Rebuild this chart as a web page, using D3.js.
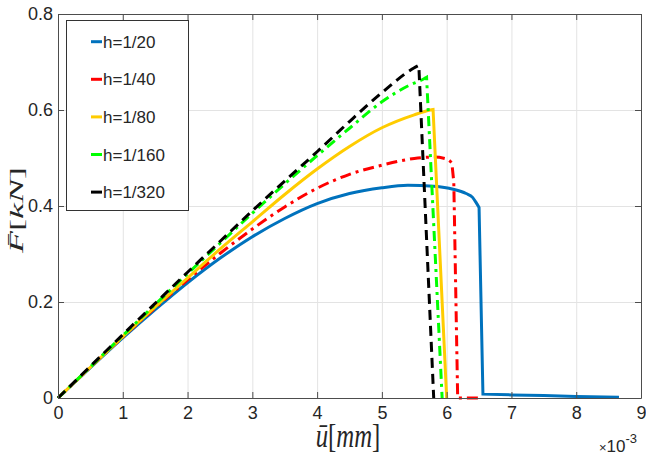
<!DOCTYPE html>
<html>
<head>
<meta charset="utf-8">
<script src="https://cdn.jsdelivr.net/npm/d3@7"></script>
<style>
body { margin: 0; background: #fff; }
text { font-family: "Liberation Sans", Arial, sans-serif; fill: #262626; }
</style>
</head>
<body>
<div id="chart"></div>
<script>
var w = 646; // Define width
var h = 461; // Define height
var plotLeft = 58, plotRight = 641, plotTop = 14, plotBottom = 398; // plot box

// Data (u in 1e-3 mm, F in kN)
var seriesNames = ["h=1/20", "h=1/40", "h=1/80", "h=1/160", "h=1/320"];

var uBlue = [0, 0.5, 1, 1.5, 2, 2.5, 3, 3.5, 4, 4.5, 5, 5.4, 5.8, 6.1, 6.3, 6.4, 6.46, 6.5, 6.56, 7, 7.5, 8, 8.66];
var fBlue = [0, 0.063, 0.125, 0.184, 0.24, 0.291, 0.336, 0.374, 0.405, 0.426, 0.438, 0.443, 0.441, 0.435, 0.426, 0.418, 0.406, 0.397, 0.008, 0.0065, 0.005, 0.003, 0.0015];

var uRed = [0, 0.5, 1, 1.5, 2, 2.5, 3, 3.5, 4, 4.5, 5, 5.5, 5.8, 6.0, 6.08, 6.11, 6.17, 6.55];
var fRed = [0, 0.064, 0.127, 0.188, 0.246, 0.301, 0.352, 0.398, 0.437, 0.466, 0.485, 0.499, 0.502, 0.498, 0.490, 0.450, 0, 0];

var uYellow = [0, 0.5, 1, 1.5, 2, 2.5, 3, 3.5, 4, 4.5, 5, 5.5, 5.75, 5.79, 6.0];
var fYellow = [0, 0.064, 0.128, 0.19, 0.25, 0.31, 0.367, 0.424, 0.477, 0.524, 0.563, 0.59, 0.6, 0.601, 0];

var uGreen = [0, 0.5, 1, 1.5, 2, 2.5, 3, 3.5, 4, 4.5, 5, 5.4, 5.65, 5.69, 5.93];
var fGreen = [0, 0.065, 0.13, 0.195, 0.259, 0.322, 0.385, 0.446, 0.505, 0.562, 0.617, 0.65, 0.665, 0.668, 0];

var uBlack = [0, 0.5, 1, 1.5, 2, 2.5, 3, 3.5, 4, 4.5, 5, 5.5, 5.57, 5.8];
var fBlack = [0, 0.066, 0.132, 0.197, 0.262, 0.326, 0.39, 0.452, 0.513, 0.576, 0.636, 0.688, 0.693, 0];

var xTicks = [0, 1, 2, 3, 4, 5, 6, 7, 8, 9];
var yTicks = [0, 0.2, 0.4, 0.6, 0.8];

var colors = ["#0072BD", "#FF0000", "#FFCC00", "#00FF00", "#000000"];
var dashes = [null, "11,5,3,5", null, "10,5,3,5", "10,6"];

function zip(us, fs) {
    return us.map(function(u, i) { return { u: u, f: fs[i] }; });
}

// index where the sudden drop starts (smooth part before, straight part after)
function breakIndex(pts) {
    for (var i = 0; i < pts.length - 1; i++) {
        if (pts[i].f - pts[i + 1].f > 0.03) return i;
    }
    return pts.length - 1;
}

function drawChart() {
    var series = [
        zip(uBlue, fBlue),
        zip(uRed, fRed),
        zip(uYellow, fYellow),
        zip(uGreen, fGreen),
        zip(uBlack, fBlack)
    ];

    var xScale = d3.scaleLinear().domain([0, 9]).range([plotLeft, plotRight]);
    var yScale = d3.scaleLinear().domain([0, 0.8]).range([plotBottom, plotTop]);

    var svg = d3.select("#chart")
        .append("svg")
        .attr("width", w)
        .attr("height", h);

    // Grid
    svg.append("g")
        .attr("transform", "translate(0," + plotBottom + ")")
        .call(d3.axisBottom(xScale).tickValues(xTicks).tickSize(-(plotBottom - plotTop)).tickFormat(""))
        .call(function(g) { g.select(".domain").remove(); })
        .selectAll("line").attr("stroke", "#e3e3e3");

    svg.append("g")
        .attr("transform", "translate(" + plotLeft + ",0)")
        .call(d3.axisLeft(yScale).tickValues(yTicks).tickSize(-(plotRight - plotLeft)).tickFormat(""))
        .call(function(g) { g.select(".domain").remove(); })
        .selectAll("line").attr("stroke", "#e3e3e3");

    // Curves: smooth loading branch, straight drop after it
    var smooth = d3.line()
        .curve(d3.curveMonotoneX)
        .x(function(d) { return xScale(d.u); })
        .y(function(d) { return yScale(d.f); });
    var straight = d3.line()
        .x(function(d) { return xScale(d.u); })
        .y(function(d) { return yScale(d.f); });

    svg.selectAll("path.curve")
        .data(series)
        .enter()
        .append("path")
        .attr("class", "curve")
        .attr("d", function(d) {
            var b = breakIndex(d);
            var a = smooth(d.slice(0, b + 1));
            var c = straight(d.slice(b));
            return a + "L" + c.slice(1);
        })
        .attr("fill", "none")
        .attr("stroke", function(d, i) { return colors[i]; })
        .attr("stroke-width", 3)
        .attr("stroke-dasharray", function(d, i) { return dashes[i]; });

    // Axes (ticks point inward, box on)
    var axisColor = "#4d4d4d";
    var xAxis = svg.append("g")
        .attr("transform", "translate(0," + plotBottom + ")")
        .call(d3.axisBottom(xScale).tickValues(xTicks).tickSize(-6).tickSizeOuter(0).tickPadding(8).tickFormat(d3.format("d")));
    var yAxis = svg.append("g")
        .attr("transform", "translate(" + plotLeft + ",0)")
        .call(d3.axisLeft(yScale).tickValues(yTicks).tickSize(-6).tickSizeOuter(0).tickPadding(5)
            .tickFormat(function(d) { return d === 0 ? "0" : d3.format(".1f")(d); }));
    var topAxis = svg.append("g")
        .attr("transform", "translate(0," + plotTop + ")")
        .call(d3.axisTop(xScale).tickValues(xTicks).tickSize(-6).tickSizeOuter(0).tickFormat(""));
    var rightAxis = svg.append("g")
        .attr("transform", "translate(" + plotRight + ",0)")
        .call(d3.axisRight(yScale).tickValues(yTicks).tickSize(-6).tickSizeOuter(0).tickFormat(""));

    [xAxis, yAxis, topAxis, rightAxis].forEach(function(g) {
        g.selectAll("path, line").attr("stroke", axisColor);
        g.selectAll("text").attr("font-size", 18).attr("fill", "#262626")
            .attr("font-family", "'Liberation Sans', Arial, sans-serif");
    });

    // Exponent note
    svg.append("text")
        .attr("x", 599)
        .attr("y", 452)
        .attr("font-size", 17)
        .html("<tspan font-size='13'>×</tspan>10<tspan font-size='13' dy='-9'>-3</tspan>");

    // Axis labels
    svg.append("text")
        .attr("transform", "translate(348,447) scale(0.75,1)")
        .attr("text-anchor", "middle")
        .attr("font-size", 33)
        .style("font-family", "'Liberation Serif', 'DejaVu Serif', serif")
        .html("<tspan font-style='italic'>ū</tspan>[<tspan font-style='italic'>mm</tspan>]");

    svg.append("text")
        .attr("transform", "translate(23,210) rotate(-90) scale(1,0.5)")
        .attr("text-anchor", "middle")
        .attr("font-size", 36)
        .style("font-family", "'Liberation Serif', 'DejaVu Serif', serif")
        .html("<tspan font-style='italic'>F\u0304</tspan>[<tspan font-style='italic'>kN</tspan>]");

    // Legend
    var legend = svg.append("g");
    legend.append("rect")
        .attr("x", 66.5).attr("y", 20.5)
        .attr("width", 122).attr("height", 190)
        .attr("fill", "#fff")
        .attr("stroke", "#333");

    var rows = legend.selectAll("g.row")
        .data(seriesNames)
        .enter()
        .append("g")
        .attr("class", "row")
        .attr("transform", function(d, i) { return "translate(0," + (41.7 + i * 37.6) + ")"; });

    rows.append("line")
        .attr("x1", 91).attr("x2", 102)
        .attr("stroke", function(d, i) { return colors[i]; })
        .attr("stroke-width", 3);

    rows.append("text")
        .attr("x", 103)
        .attr("y", 6)
        .attr("font-size", 17)
        .text(function(d) { return d; });
}

drawChart();
</script>
</body>
</html>
